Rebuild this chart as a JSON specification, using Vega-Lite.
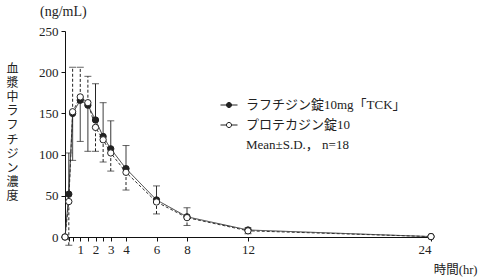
{
  "$schema": "https://vega.github.io/schema/vega-lite/v6.json",
  "width": 366,
  "height": 206,
  "autosize": {"type": "none"},
  "padding": {"left": 65, "top": 31, "right": 47, "bottom": 43},
  "background": "white",
  "config": {
    "view": {"stroke": null},
    "font": "Liberation Serif, Noto Sans CJK JP",
    "axis": {
      "grid": false,
      "domainColor": "#111",
      "tickColor": "#111",
      "labelColor": "#222",
      "titleColor": "#222",
      "labelFont": "Liberation Serif",
      "labelFontSize": 13,
      "titleFontWeight": "normal",
      "titleFont": "Liberation Serif, Noto Sans CJK JP",
      "tickSize": 4,
      "domainWidth": 1,
      "tickWidth": 1
    }
  },
  "title": {
    "text": "(ng/mL)",
    "anchor": "start",
    "frame": "group",
    "dx": -25,
    "offset": 6,
    "fontSize": 14,
    "fontWeight": "normal",
    "font": "Liberation Serif",
    "color": "#222"
  },
  "data": {
    "values": [
      {"t": 0, "s": "ラフチジン錠10mg「TCK」", "m": 0},
      {"t": 0.25, "s": "ラフチジン錠10mg「TCK」", "m": 52, "lo": 52, "hi": 102, "cap": 102},
      {"t": 0.5, "s": "ラフチジン錠10mg「TCK」", "m": 150, "lo": 93, "hi": 150, "cap": 93},
      {"t": 1, "s": "ラフチジン錠10mg「TCK」", "m": 166, "lo": 116, "hi": 166, "cap": 116},
      {"t": 1.5, "s": "ラフチジン錠10mg「TCK」", "m": 160, "lo": 104, "hi": 160, "cap": 104},
      {"t": 2, "s": "ラフチジン錠10mg「TCK」", "m": 142, "lo": 142, "hi": 186, "cap": 186},
      {"t": 2.5, "s": "ラフチジン錠10mg「TCK」", "m": 122, "lo": 122, "hi": 163, "cap": 163},
      {"t": 3, "s": "ラフチジン錠10mg「TCK」", "m": 107, "lo": 107, "hi": 141, "cap": 141},
      {"t": 4, "s": "ラフチジン錠10mg「TCK」", "m": 83, "lo": 83, "hi": 111, "cap": 111},
      {"t": 6, "s": "ラフチジン錠10mg「TCK」", "m": 45, "lo": 45, "hi": 62, "cap": 62},
      {"t": 8, "s": "ラフチジン錠10mg「TCK」", "m": 24.5, "lo": 24.5, "hi": 35.5, "cap": 35.5},
      {"t": 12, "s": "ラフチジン錠10mg「TCK」", "m": 8.5, "lo": 8.5, "hi": 11, "cap": 11},
      {"t": 24, "s": "ラフチジン錠10mg「TCK」", "m": 0.5},
      {"t": 0, "s": "プロテカジン錠10", "m": 0},
      {"t": 0.25, "s": "プロテカジン錠10", "m": 43, "lo": -10, "hi": 43, "cap": -10},
      {"t": 0.5, "s": "プロテカジン錠10", "m": 152, "lo": 152, "hi": 206, "cap": 206},
      {"t": 1, "s": "プロテカジン錠10", "m": 170, "lo": 170, "hi": 206, "cap": 206},
      {"t": 1.5, "s": "プロテカジン錠10", "m": 163, "lo": 163, "hi": 195, "cap": 195},
      {"t": 2, "s": "プロテカジン錠10", "m": 133, "lo": 104, "hi": 133, "cap": 104},
      {"t": 2.5, "s": "プロテカジン錠10", "m": 118, "lo": 91, "hi": 118, "cap": 91},
      {"t": 3, "s": "プロテカジン錠10", "m": 102, "lo": 80, "hi": 102, "cap": 80},
      {"t": 4, "s": "プロテカジン錠10", "m": 78.5, "lo": 57, "hi": 78.5, "cap": 57},
      {"t": 6, "s": "プロテカジン錠10", "m": 42.5, "lo": 28, "hi": 42.5, "cap": 28},
      {"t": 8, "s": "プロテカジン錠10", "m": 23.5, "lo": 14, "hi": 23.5, "cap": 14},
      {"t": 12, "s": "プロテカジン錠10", "m": 7.5, "lo": 4, "hi": 7.5, "cap": 4},
      {"t": 24, "s": "プロテカジン錠10", "m": 0.5}
    ]
  },
  "encoding": {
    "x": {
      "field": "t",
      "type": "quantitative",
      "scale": {"domain": [0, 24], "nice": false, "zero": false},
      "axis": {
        "values": [0.25, 0.5, 1, 1.5, 2, 2.5, 3, 4, 6, 8, 12, 24],
        "labelExpr": "indexof([1,2,3,4,6,8,12,24], datum.value) >= 0 ? datum.label : ''",
        "labelOverlap": false,
        "labelPadding": 2,
        "title": "時間(hr)",
        "titleFontSize": 12.5,
        "titleX": 412,
        "titleY": 32,
        "titleAlign": "right",
        "titleBaseline": "middle",
        "titleAnchor": null
      }
    }
  },
  "layer": [
    {
      "mark": {"type": "line", "strokeWidth": 1, "color": "#333"},
      "encoding": {
        "y": {
          "field": "m",
          "type": "quantitative",
          "scale": {"domain": [0, 250], "nice": false},
          "axis": {
            "values": [0, 50, 100, 150, 200, 250],
            "labelPadding": 3,
            "title": ["血", "漿", "中", "ラ", "フ", "チ", "ジ", "ン", "濃", "度"],
            "titleAngle": 0,
            "titleX": -53,
            "titleY": 37,
            "titleAlign": "center",
            "titleBaseline": "middle",
            "titleLineHeight": 14.2,
            "titleFontSize": 12,
            "titleFont": "Noto Sans CJK JP"
          }
        },
        "strokeDash": {
          "field": "s",
          "type": "nominal",
          "scale": {"domain": ["ラフチジン錠10mg「TCK」", "プロテカジン錠10"], "range": [[1, 0], [3, 2]]},
          "legend": null
        }
      }
    },
    {
      "mark": {"type": "rule", "strokeWidth": 1, "color": "#222"},
      "encoding": {
        "y": {"field": "lo", "type": "quantitative"},
        "y2": {"field": "hi"},
        "strokeDash": {"field": "s", "type": "nominal", "legend": null}
      }
    },
    {
      "mark": {"type": "tick", "orient": "horizontal", "size": 7, "thickness": 1, "color": "#222"},
      "encoding": {
        "y": {"field": "cap", "type": "quantitative"}
      }
    },
    {
      "mark": {"type": "point", "filled": false, "size": 40, "strokeWidth": 1, "opacity": 1},
      "encoding": {
        "y": {"field": "m", "type": "quantitative"},
        "order": {"field": "s", "sort": "descending"},
        "fill": {
          "field": "s",
          "type": "nominal",
          "scale": {
            "domain": ["ラフチジン錠10mg「TCK」", "プロテカジン錠10", "Mean±S.D.， n=18"],
            "range": ["#222222", "#ffffff", "transparent"]
          },
          "legend": {
            "title": null,
            "orient": "none",
            "legendX": 155,
            "legendY": 65,
            "padding": 0,
            "symbolType": "M-1,0H-0.3M0.3,0H1M0.3,0A0.3,0.3,0,1,1,-0.3,0A0.3,0.3,0,1,1,0.3,0Z",
            "symbolSize": 289,
            "symbolStrokeWidth": 1,
            "labelFontSize": 13,
            "labelFont": "Liberation Serif, Noto Sans CJK JP",
            "labelColor": "#222",
            "labelOffset": 8,
            "rowPadding": 4,
            "labelLimit": 300
          }
        },
        "stroke": {
          "field": "s",
          "type": "nominal",
          "scale": {
            "domain": ["ラフチジン錠10mg「TCK」", "プロテカジン錠10", "Mean±S.D.， n=18"],
            "range": ["#222222", "#222222", "transparent"]
          }
        }
      }
    }
  ]
}
